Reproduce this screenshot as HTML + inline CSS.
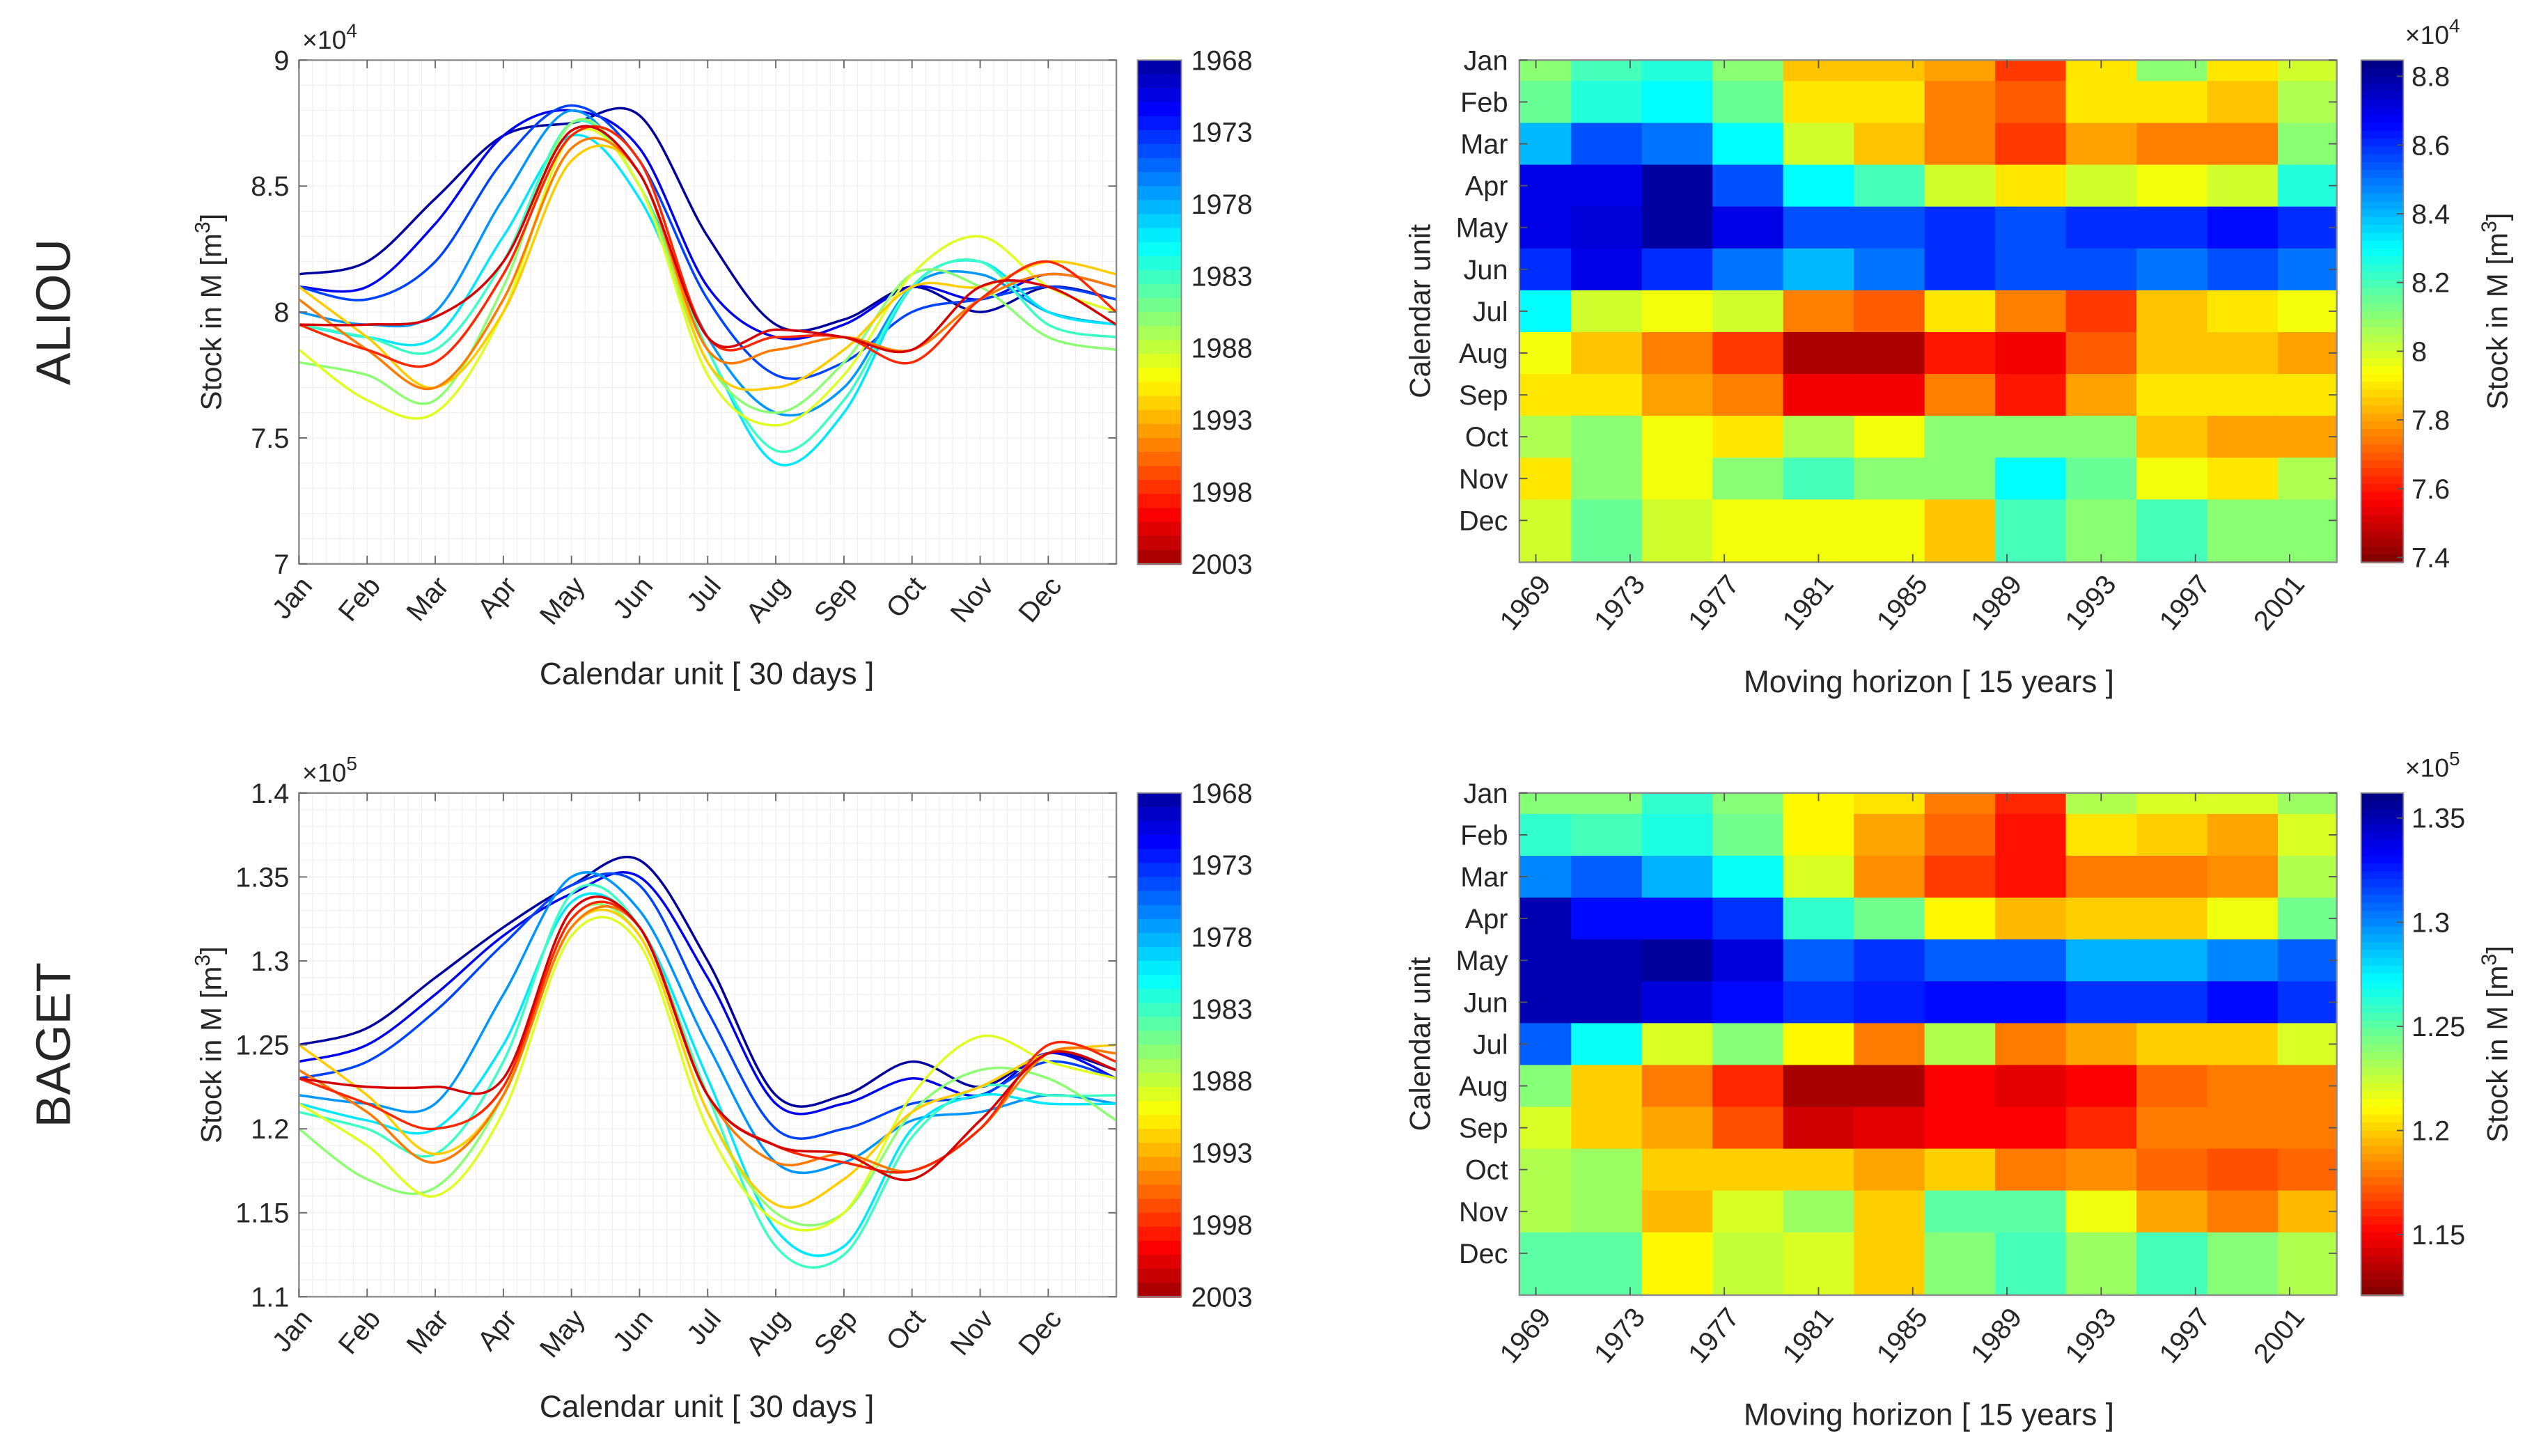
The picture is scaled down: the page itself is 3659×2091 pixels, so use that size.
<!DOCTYPE html>
<html><head><meta charset="utf-8">
<style>
html,body{margin:0;padding:0;background:#fff;}
svg{display:block;}
text{font-family:"Liberation Sans",Arial,sans-serif;fill:#262626;}
</style></head>
<body>
<svg id="fig" xmlns="http://www.w3.org/2000/svg" width="3659" height="2091" viewBox="0 0 1568 896" preserveAspectRatio="none">
<rect width="1568" height="896" fill="#fff"/>
</svg>
<script>
// ---------- DATA ----------
const months = ["Jan","Feb","Mar","Apr","May","Jun","Jul","Aug","Sep","Oct","Nov","Dec"];
const seriesYears = [1968,1971,1974,1977,1980,1983,1986,1989,1992,1995,1998,2001];
const cbYearLabels = [1968,1973,1978,1983,1988,1993,1998,2003];
const heatYearTicks = [1969,1973,1977,1981,1985,1989,1993,1997,2001];
const heatColYears = [1969,1972,1975,1978,1981,1984,1987,1990,1993,1996,1999,2002];

// Top line chart (x1e4), 13 points: Jan..Dec + end
const aliouLines = [
 [8.15,8.2,8.45,8.7,8.75,8.78,8.3,7.95,7.97,8.1,8.0,8.1,8.05],
 [8.1,8.1,8.35,8.7,8.8,8.65,8.1,7.9,7.95,8.1,8.05,8.15,8.1],
 [8.1,8.05,8.2,8.6,8.82,8.6,8.05,7.75,7.8,8.0,8.05,8.1,8.05],
 [8.0,7.95,8.0,8.45,8.8,8.5,7.9,7.6,7.7,8.1,8.15,8.0,7.95],
 [7.95,7.9,7.9,8.3,8.7,8.45,7.85,7.4,7.6,8.1,8.2,8.0,7.95],
 [7.95,7.9,7.85,8.2,8.75,8.5,7.85,7.45,7.65,8.1,8.2,7.95,7.9],
 [7.8,7.75,7.65,8.1,8.75,8.5,7.8,7.6,7.8,8.15,8.1,7.9,7.85],
 [7.85,7.65,7.6,8.0,8.7,8.5,7.75,7.55,7.75,8.15,8.3,8.1,8.0],
 [8.1,7.9,7.7,8.0,8.6,8.55,7.8,7.7,7.85,8.1,8.1,8.2,8.15],
 [8.05,7.85,7.7,8.05,8.65,8.55,7.85,7.85,7.9,7.85,8.05,8.15,8.1],
 [7.95,7.85,7.8,8.15,8.7,8.6,7.9,7.9,7.9,7.8,8.05,8.2,8.0],
 [7.95,7.95,7.98,8.2,8.72,8.55,7.9,7.93,7.9,7.85,8.1,8.1,7.95]
];
// Bottom line chart (x1e5)
const bagetLines = [
 [1.25,1.26,1.29,1.32,1.345,1.36,1.30,1.22,1.22,1.24,1.225,1.245,1.235],
 [1.24,1.25,1.28,1.315,1.34,1.35,1.29,1.215,1.215,1.23,1.22,1.245,1.23],
 [1.23,1.24,1.27,1.31,1.345,1.345,1.27,1.2,1.2,1.215,1.22,1.24,1.23],
 [1.22,1.215,1.215,1.28,1.35,1.33,1.25,1.18,1.18,1.205,1.21,1.22,1.215],
 [1.215,1.205,1.2,1.25,1.335,1.32,1.23,1.14,1.13,1.2,1.22,1.215,1.215],
 [1.21,1.2,1.185,1.24,1.34,1.32,1.22,1.13,1.125,1.195,1.225,1.22,1.22],
 [1.2,1.17,1.165,1.22,1.325,1.315,1.21,1.15,1.15,1.21,1.235,1.23,1.205],
 [1.215,1.19,1.16,1.21,1.315,1.31,1.2,1.145,1.15,1.22,1.255,1.24,1.23],
 [1.25,1.22,1.185,1.22,1.32,1.315,1.21,1.155,1.17,1.21,1.225,1.245,1.25],
 [1.235,1.21,1.18,1.22,1.32,1.32,1.22,1.18,1.185,1.175,1.2,1.245,1.245],
 [1.23,1.215,1.2,1.225,1.325,1.32,1.22,1.19,1.18,1.175,1.2,1.25,1.24],
 [1.23,1.225,1.225,1.23,1.33,1.32,1.22,1.19,1.185,1.17,1.205,1.245,1.235]
];
// Heatmaps: rows = columns (year groups), 12 monthly values each
const aliouHeat = [
 [8.1,8.15,8.4,8.7,8.7,8.6,8.3,7.95,7.9,8.05,7.9,8.0],
 [8.2,8.25,8.55,8.7,8.72,8.7,8.0,7.85,7.9,8.1,8.1,8.15],
 [8.25,8.3,8.5,8.8,8.8,8.6,7.95,7.75,7.8,7.95,7.95,8.0],
 [8.1,8.15,8.3,8.55,8.7,8.5,8.0,7.65,7.75,7.9,8.1,7.95],
 [7.85,7.9,8.0,8.3,8.55,8.4,7.75,7.45,7.55,8.05,8.2,7.95],
 [7.85,7.9,7.85,8.2,8.55,8.5,7.7,7.45,7.55,7.95,8.1,7.95],
 [7.8,7.75,7.75,8.0,8.6,8.6,7.9,7.6,7.75,8.1,8.1,7.85],
 [7.65,7.7,7.65,7.9,8.55,8.55,7.75,7.55,7.6,8.1,8.3,8.2],
 [7.9,7.9,7.8,8.0,8.6,8.55,7.65,7.7,7.8,8.1,8.15,8.1],
 [8.1,7.9,7.75,7.95,8.6,8.5,7.85,7.85,7.9,7.85,7.95,8.2],
 [7.9,7.85,7.75,8.0,8.65,8.55,7.9,7.85,7.9,7.8,7.9,8.1],
 [8.0,8.05,8.1,8.25,8.6,8.5,7.95,7.8,7.9,7.8,8.05,8.1]
];
const bagetHeat = [
 [1.24,1.26,1.3,1.35,1.35,1.35,1.31,1.24,1.22,1.23,1.23,1.25],
 [1.24,1.255,1.31,1.33,1.35,1.35,1.27,1.2,1.2,1.235,1.235,1.25],
 [1.26,1.265,1.29,1.33,1.355,1.34,1.22,1.18,1.19,1.2,1.195,1.21],
 [1.24,1.245,1.27,1.32,1.34,1.33,1.24,1.16,1.17,1.2,1.22,1.225],
 [1.21,1.21,1.22,1.26,1.31,1.32,1.21,1.13,1.14,1.2,1.235,1.22],
 [1.205,1.19,1.185,1.245,1.32,1.325,1.18,1.13,1.145,1.19,1.2,1.2],
 [1.18,1.175,1.165,1.21,1.31,1.33,1.23,1.15,1.15,1.2,1.25,1.24],
 [1.16,1.155,1.155,1.195,1.31,1.33,1.18,1.145,1.15,1.18,1.25,1.255],
 [1.23,1.205,1.18,1.2,1.29,1.32,1.19,1.15,1.16,1.185,1.215,1.235],
 [1.22,1.2,1.18,1.2,1.29,1.32,1.2,1.175,1.18,1.175,1.19,1.255],
 [1.22,1.19,1.185,1.215,1.3,1.33,1.2,1.18,1.18,1.17,1.18,1.24],
 [1.235,1.22,1.23,1.245,1.31,1.32,1.22,1.18,1.18,1.175,1.195,1.23]
];
const aliouTicks = [7,7.5,8,8.5,9];
const bagetTicks = [1.1,1.15,1.2,1.25,1.3,1.35,1.4];
const aliouCbTicks = [7.4,7.6,7.8,8,8.2,8.4,8.6,8.8];
const bagetCbTicks = [1.15,1.2,1.25,1.3,1.35];

// ---------- HELPERS ----------
const NS="http://www.w3.org/2000/svg";
const svg=document.getElementById('fig');
function mk(tag,attrs,parent,txt){const e=document.createElementNS(NS,tag);for(const k in attrs)e.setAttribute(k,attrs[k]);if(txt!==undefined)e.textContent=txt;(parent||svg).appendChild(e);return e;}
function jet(t){t=Math.max(0,Math.min(1,t));
 const r=Math.max(0,Math.min(1,Math.min(4*t-1.5,-4*t+4.5)));
 const g=Math.max(0,Math.min(1,Math.min(4*t-0.5,-4*t+3.5)));
 const b=Math.max(0,Math.min(1,Math.min(4*t+0.5,-4*t+2.5)));
 return `rgb(${Math.round(r*255)},${Math.round(g*255)},${Math.round(b*255)})`;}
function fmt(v){return String(+v.toFixed(2));}

function linePanel(o){
 const g=mk('g',{});
 
 
 const L=184,R=687,T=o.top,B=o.top+310;
 const xs=m=>L+(m-1)/12*(R-L);
 const ys=v=>B-(v-o.ymin)/(o.ymax-o.ymin)*(B-T);
 mk('rect',{x:L,y:T,width:R-L,height:B-T,fill:'#fff'},g);
 for(let i=0;i<=60;i++){const x=L+i*(R-L)/60;mk('line',{x1:x,x2:x,y1:T,y2:B,stroke:'#efefef','stroke-width':0.5},g);}
 const nMinor=Math.round((o.ymax-o.ymin)/o.minor);
 for(let i=0;i<=nMinor;i++){const y=B-i*(B-T)/nMinor;mk('line',{x1:L,x2:R,y1:y,y2:y,stroke:'#efefef','stroke-width':0.5},g);}
 const clipId='clip'+o.name;
 const cp=mk('clipPath',{id:clipId},g);mk('rect',{x:L,y:T,width:R-L,height:B-T},cp);
 const sg=mk('g',{'clip-path':`url(#${clipId})`},g);
 o.data.forEach((s,i)=>{
  const pts=s.map((v,k)=>[xs(1+k),ys(v)]);
  let d=`M${pts[0][0]},${pts[0][1]}`;
  for(let k=0;k<pts.length-1;k++){const p0=pts[Math.max(0,k-1)],p1=pts[k],p2=pts[k+1],p3=pts[Math.min(pts.length-1,k+2)];
   const c1=[p1[0]+(p2[0]-p0[0])/6,p1[1]+(p2[1]-p0[1])/6],c2=[p2[0]-(p3[0]-p1[0])/6,p2[1]-(p3[1]-p1[1])/6];
   d+=` C${c1[0]},${c1[1]} ${c2[0]},${c2[1]} ${p2[0]},${p2[1]}`;}
  const t=(seriesYears[i]-1968)/35;
  const p=mk('path',{d:d,fill:'none',stroke:jet(t*0.94+0.03),'stroke-width':1.5},sg);
  
  
 });
 mk('rect',{x:L,y:T,width:R-L,height:B-T,fill:'none',stroke:'#8a8a8a','stroke-width':1},g);
 o.ticks.forEach(v=>{const y=ys(v);
  mk('line',{x1:L,x2:L+5,y1:y,y2:y,stroke:'#666','stroke-width':0.8},g);
  mk('line',{x1:R,x2:R-5,y1:y,y2:y,stroke:'#666','stroke-width':0.8},g);
  const t=mk('text',{x:L-6,y:y+6,'text-anchor':'end','font-size':17},g,fmt(v));
  });
 months.forEach((m,i)=>{const x=xs(i+1);
  mk('line',{x1:x,x2:x,y1:B,y2:B-5,stroke:'#666','stroke-width':0.8},g);
  mk('line',{x1:x,x2:x,y1:T,y2:T+5,stroke:'#666','stroke-width':0.8},g);
  const t=mk('text',{x:x+9,y:B+14,'text-anchor':'end','font-size':17,transform:`rotate(-50 ${x+9} ${B+14})`},g,m);
  });
 const ex=mk('text',{x:L+2,y:T-7,'font-size':16},g);ex.innerHTML=`×10<tspan dy="-7" font-size="12">${o.exp}</tspan>`;
 
 const yl=mk('text',{x:0,y:0,'text-anchor':'middle','font-size':18,transform:`translate(136 ${(T+B)/2}) rotate(-90)`},g);
 yl.innerHTML='Stock in M [m<tspan dy="-7" font-size="13">3</tspan><tspan dy="7">]</tspan>';
 
 const xl=mk('text',{x:435,y:B+74,'text-anchor':'middle','font-size':19},g,'Calendar unit [ 30 days ]');
 
 const cb=mk('g',{},g);
 const cL=700,cW=27,n=36;
 for(let i=0;i<n;i++){mk('rect',{x:cL,y:T+i*(B-T)/n,width:cW,height:(B-T)/n+0.6,fill:jet((i+0.5)/n*0.94+0.03)},cb);}
 mk('rect',{x:cL,y:T,width:cW,height:B-T,fill:'none',stroke:'#8a8a8a','stroke-width':0.8},cb);
 cbYearLabels.forEach(yv=>{const y=T+(yv-1968)/35*(B-T);
  const t=mk('text',{x:cL+cW+6,y:y+6,'font-size':17},cb,String(yv));
  });
 const nm=mk('text',{x:0,y:0,'text-anchor':'middle','font-size':30,transform:`translate(43 ${(T+B)/2}) rotate(-90)`},g,o.title);
 
}

function heatPanel(o){
 const g=mk('g',{});
 
 
 const L=935,R=1438,T=o.top,B=o.top+309;
 const xs=y=>L+(y-1968.3)/(2003-1968.3)*(R-L);
 const ys=m=>T+(m-1)/12*(B-T);
 const col=v=>jet(1-(v-o.cmin)/(o.cmax-o.cmin));
 const clipId='hclip'+o.name;
 const cp=mk('clipPath',{id:clipId},g);mk('rect',{x:L,y:T,width:R-L,height:B-T},cp);
 const cg=mk('g',{'clip-path':`url(#${clipId})`},g);
 o.data.forEach((colv,ci)=>{const c=heatColYears[ci];
  colv.forEach((v,mi)=>{
   // row centred on its month tick; last row runs to the bottom edge
   const y0=ys(mi+0.5), y1=(mi===11)?B:ys(mi+1.5);
   const r=mk('rect',{x:xs(c-1.5),y:y0,width:xs(c+1.5)-xs(c-1.5)+0.5,height:y1-y0+0.5,fill:col(v)},cg);
   
   
  });});
 mk('rect',{x:L,y:T,width:R-L,height:B-T,fill:'none',stroke:'#8a8a8a','stroke-width':1},g);
 months.forEach((m,i)=>{const y=ys(i+1);
  mk('line',{x1:L,x2:L+5,y1:y,y2:y,stroke:'#555','stroke-width':0.8},g);
  mk('line',{x1:R,x2:R-5,y1:y,y2:y,stroke:'#555','stroke-width':0.8},g);
  const t=mk('text',{x:L-7,y:y+6,'text-anchor':'end','font-size':17},g,m);
  });
 heatYearTicks.forEach(yv=>{const x=xs(yv);
  mk('line',{x1:x,x2:x,y1:B,y2:B-5,stroke:'#555','stroke-width':0.8},g);
  mk('line',{x1:x,x2:x,y1:T,y2:T+5,stroke:'#555','stroke-width':0.8},g);
  const t=mk('text',{x:x+10,y:B+14,'text-anchor':'end','font-size':17,transform:`rotate(-50 ${x+10} ${B+14})`},g,String(yv));
  });
 const yl=mk('text',{x:0,y:0,'text-anchor':'middle','font-size':18,transform:`translate(880 ${(T+B)/2}) rotate(-90)`},g,'Calendar unit');
 
 const xl=mk('text',{x:1187,y:B+80,'text-anchor':'middle','font-size':19},g,'Moving horizon [ 15 years ]');
 
 const cb=mk('g',{},g);
 const cL=1453,cW=26,n=64;
 for(let i=0;i<n;i++){mk('rect',{x:cL,y:T+i*(B-T)/n,width:cW,height:(B-T)/n+0.6,fill:jet((i+0.5)/n)},cb);}
 mk('rect',{x:cL,y:T,width:cW,height:B-T,fill:'none',stroke:'#8a8a8a','stroke-width':0.8},cb);
 const cy=v=>B-(v-o.cmin)/(o.cmax-o.cmin)*(B-T);
 o.cbTicks.forEach(v=>{const y=cy(v);
  mk('line',{x1:cL+cW,x2:cL+cW-4,y1:y,y2:y,stroke:'#555','stroke-width':0.8},cb);
  const t=mk('text',{x:cL+cW+5,y:y+6,'font-size':17},cb,fmt(v));
  });
 const ex=mk('text',{x:1480,y:T-10,'font-size':16},g);ex.innerHTML=`×10<tspan dy="-7" font-size="12">${o.exp}</tspan>`;
 
 const cl=mk('text',{x:0,y:0,'text-anchor':'middle','font-size':18,transform:`translate(1543 ${(T+B)/2}) rotate(-90)`},g);
 cl.innerHTML='Stock in M [m<tspan dy="-7" font-size="13">3</tspan><tspan dy="7">]</tspan>';
 
}

linePanel({name:'aliou',title:'ALIOU',top:37,ymin:7,ymax:9,minor:0.1,ticks:aliouTicks,data:aliouLines,exp:4});
linePanel({name:'baget',title:'BAGET',top:488,ymin:1.1,ymax:1.4,minor:0.01,ticks:bagetTicks,data:bagetLines,exp:5});
heatPanel({name:'aliou',top:37,cmin:7.386,cmax:8.847,cbTicks:aliouCbTicks,data:aliouHeat,exp:4});
heatPanel({name:'baget',top:488,cmin:1.121,cmax:1.362,cbTicks:bagetCbTicks,data:bagetHeat,exp:5});
</script>
</body></html>
